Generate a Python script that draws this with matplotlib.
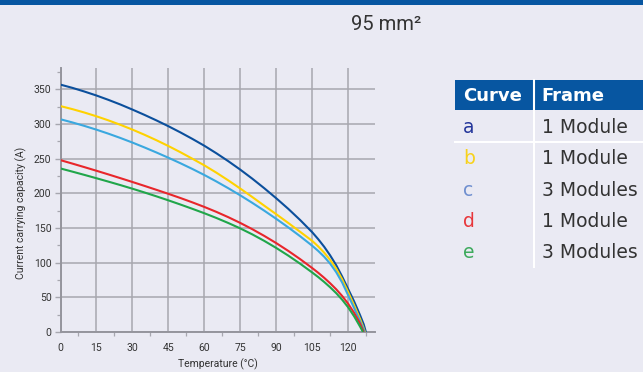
import matplotlib
matplotlib.use("Agg")
import matplotlib.pyplot as plt
from matplotlib.ticker import MultipleLocator
from matplotlib.patches import Rectangle
from matplotlib.lines import Line2D

# --- data ------------------------------------------------------------------
temp_common = [0, 5, 10, 15, 20, 25, 30, 35, 40, 45, 50, 55, 60, 65, 70, 75,
               80, 85, 90, 95, 100, 105, 107.5, 110, 112.5, 115, 117.5, 120,
               122.5, 125]

curve_a = [357, 352.3, 347.0, 341.3, 335.0, 328.3, 321.0, 313.4, 305.4, 297.0,
           288.1, 278.7, 268.8, 258.0, 246.5, 234.3, 221.3, 207.5, 193.0,
           177.8, 161.5, 144.0, 134, 123, 110.5, 96.5, 80, 62, 44, 24, 11, 0]
temp_a = temp_common + [126.5, 127.4]

curve_b = [326, 321.6, 316.7, 311.3, 305.4, 299.0, 292.1, 284.7, 276.8, 268.4,
           259.5, 250.1, 240.5, 230.0, 218.8, 207.0, 194.8, 182.3, 170.0,
           157.4, 144.5, 131.5, 123.5, 114.5, 104, 91.5, 76, 57.5, 38.5, 18.5,
           7, 0]
temp_b = temp_common + [126.3, 127.0]

curve_c = [307, 302.4, 297.4, 292.0, 286.2, 280.0, 273.4, 266.4, 259.1, 251.5,
           243.6, 235.3, 226.6, 217.3, 207.5, 197.2, 186.4, 175.1, 163.3,
           151.0, 138.1, 124.5, 117.0, 108.6, 98.6, 86.4, 71.4, 53.0, 34.5, 15,
           6, 0]
temp_c = temp_common + [126.2, 126.8]

curve_d = [248, 243.0, 237.9, 232.7, 227.4, 222.0, 216.5, 210.9, 205.2, 199.4,
           193.4, 187.1, 180.5, 173.4, 165.7, 157.4, 148.4, 138.7, 128.3,
           117.1, 105.1, 92.3, 85.5, 78.2, 70.3, 61.7, 52.0, 40.8, 27.5, 12.0,
           0]
temp_d = temp_common + [126.5]

curve_e = [236, 231.4, 226.7, 221.9, 217.0, 212.0, 206.8, 201.4, 195.8, 190.0,
           184.0, 177.8, 171.4, 164.6, 157.3, 149.5, 140.9, 131.5, 121.3,
           110.3, 98.5, 85.9, 79.3, 72.2, 64.5, 56.1, 46.6, 35.6, 22.6, 7.6, 0]
temp_e = temp_common + [126.2]

curve_ids = ["a", "b", "c", "d", "e"]
frames = ["1 Module", "1 Module", "3 Modules", "1 Module", "3 Modules"]
line_colors = ["#0B4F9C", "#FFD200", "#3AA8DF", "#E8262B", "#20A64A"]
label_colors = ["#23359A", "#F7D21C", "#6F8FCF", "#E8363A", "#3DAA5C"]

x_ticks = [0, 15, 30, 45, 60, 75, 90, 105, 120]
y_ticks = [0, 50, 100, 150, 200, 250, 300, 350]

title = "95 mm²"

# --- style ---------------------------------------------------------------------
BG = "#EAEAF3"
BLUE = "#0756A1"
GRID = "#A7A7AF"
TEXT = "#333333"

fig = plt.figure(figsize=(6.43, 3.72), dpi=100, facecolor=BG)

# top bar
fig.add_artist(Rectangle((0, 1 - 5 / 372), 1, 5 / 372, transform=fig.transFigure,
                         facecolor=BLUE, edgecolor="none"))
fig.text(386 / 643, 1 - 24 / 372, title, ha="center", va="center",
         fontsize=14.5, color=TEXT, family="Roboto")

ax = fig.add_axes([60.5 / 643, 1 - 332 / 372, 314.5 / 643, 264 / 372])
ax.set_facecolor(BG)

series = [(temp_a, curve_a), (temp_b, curve_b), (temp_c, curve_c),
          (temp_d, curve_d), (temp_e, curve_e)]
for (t, v), col in zip(series, line_colors):
    ax.plot(t, v, color=col, linewidth=1.5, solid_capstyle="butt",
            solid_joinstyle="round", zorder=3)

ax.set_xlim(0, 131.2)
ax.set_ylim(0, 381)
ax.set_xticks(x_ticks)
ax.set_yticks(y_ticks)
ax.xaxis.set_minor_locator(MultipleLocator(7.5))
ax.yaxis.set_minor_locator(MultipleLocator(25))

ax.grid(True, which="major", color=GRID, linewidth=1.1)
ax.set_axisbelow(True)
for side in ["top", "right"]:
    ax.spines[side].set_visible(False)
for side in ["left", "bottom"]:
    ax.spines[side].set_color("#95959D")
    ax.spines[side].set_linewidth(1.4)

ax.tick_params(axis="y", which="major", length=4.5, width=1.0, color=GRID,
               pad=2, labelsize=7.5, labelcolor=TEXT)
ax.tick_params(axis="y", which="minor", length=3, width=0.9, color=GRID)
ax.tick_params(axis="x", which="major", length=0, pad=8, labelsize=7.5,
               labelcolor=TEXT)
ax.tick_params(axis="x", which="minor", length=3, width=0.9, color=GRID)
for lab in ax.get_xticklabels() + ax.get_yticklabels():
    lab.set_family("Roboto")

ax.set_xlabel("Temperature (°C)", fontsize=7.5, color=TEXT, family="Roboto",
              labelpad=4)
ax.set_ylabel("Current carrying capacity (A)", fontsize=7.5, color=TEXT,
              family="Roboto", labelpad=8)
ax.yaxis.set_label_coords(-0.105, 0.45)

# --- legend table ------------------------------------------------------------
W, H = 643.0, 372.0
tx0, tdiv = 455, 533.5
fig.add_artist(Rectangle((tx0 / W, 1 - 110 / H), (W - tx0) / W, 30 / H,
                         transform=fig.transFigure, facecolor=BLUE,
                         edgecolor="none"))
fig.text(463 / W, 1 - 96 / H, "Curve", ha="left", va="center", fontsize=13,
         fontweight="bold", color="white", family="DejaVu Sans")
fig.text(541 / W, 1 - 96 / H, "Frame", ha="left", va="center", fontsize=13,
         fontweight="bold", color="white", family="DejaVu Sans")
fig.add_artist(Line2D([tdiv / W, tdiv / W], [1 - 80 / H, 1 - 267 / H],
                      transform=fig.transFigure, color="white", linewidth=1.5))
fig.add_artist(Line2D([tx0 / W, 1], [1 - 141.7 / H, 1 - 141.7 / H],
                      transform=fig.transFigure, color="white", linewidth=1.5))

row_y0, row_step = 127.5, 31.3
for i, (cid, fr, col) in enumerate(zip(curve_ids, frames, label_colors)):
    y = 1 - (row_y0 + i * row_step) / H
    fig.text(463 / W, y, cid, ha="left", va="center", fontsize=13.5,
             color=col, family="DejaVu Sans")
    fig.text(542 / W, y, fr, ha="left", va="center", fontsize=13.5,
             color=TEXT, family="DejaVu Sans")

fig.savefig("out.png", dpi=100, facecolor=BG)
